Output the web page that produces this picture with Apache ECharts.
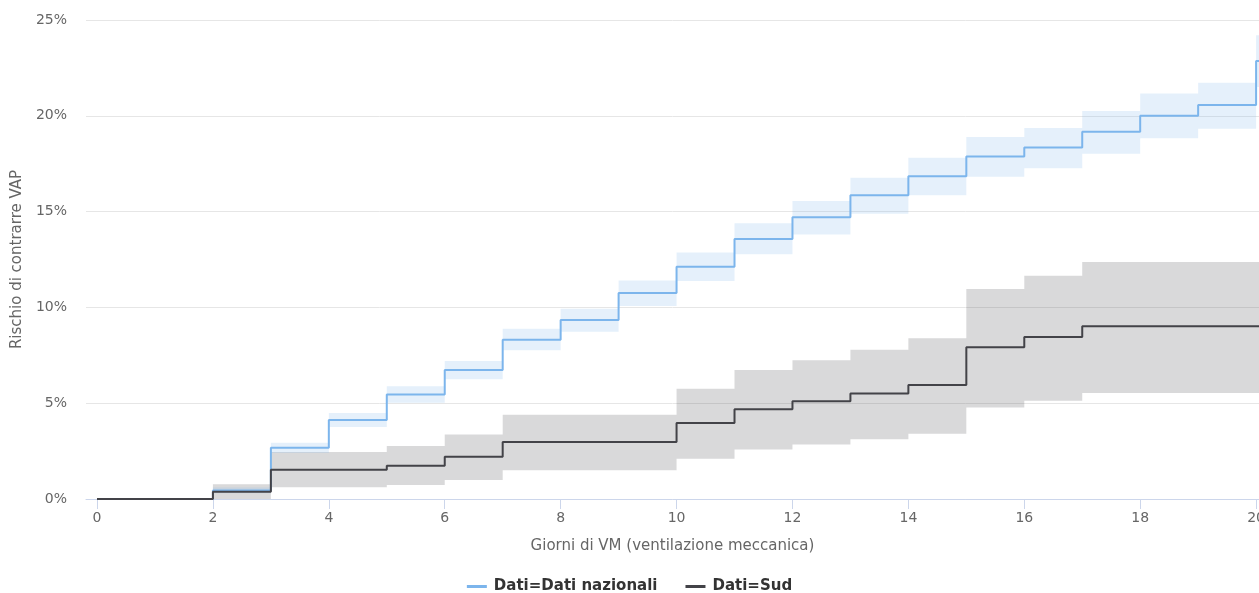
<!DOCTYPE html>
<html>
<head>
<meta charset="utf-8">
<script src="https://cdn.jsdelivr.net/npm/echarts@6/dist/echarts.min.js"></script>
<style>
  html, body { margin: 0; padding: 0; background: #fff; }
  #chart { width: 1259px; height: 593px; }
</style>
</head>
<body>
<div id="chart"></div>
<script>
// giorni di VM (ultimo punto oltre 20 solo per chiudere il gradino)
var days = [0, 2, 3, 4, 5, 6, 7, 8, 9, 10, 11, 12, 13, 14, 15, 16, 17, 18, 19, 20, 21]
var xTicks = [0, 2, 4, 6, 8, 10, 12, 14, 16, 18, 20]

// Dati nazionali (rischio %, con intervallo di confidenza)
var nazRisk  = [0, 0.45, 2.68, 4.12, 5.45, 6.73, 8.31, 9.34, 10.75, 12.12, 13.57, 14.70, 15.85, 16.84, 17.87, 18.34, 19.17, 20.00, 20.56, 22.86, 22.86]
var nazUpper = [0, 0.60, 2.94, 4.49, 5.88, 7.20, 8.89, 9.93, 11.41, 12.86, 14.39, 15.55, 16.77, 17.81, 18.89, 19.36, 20.25, 21.17, 21.73, 24.20, 24.20]
var nazLower = [0, 0.30, 2.40, 3.76, 5.03, 6.25, 7.76, 8.73, 10.07, 11.38, 12.77, 13.81, 14.89, 15.85, 16.82, 17.26, 18.02, 18.83, 19.33, 21.50, 21.50]

// Sud
var sudRisk  = [0, 0.38, 1.53, 1.53, 1.74, 2.21, 2.97, 2.97, 2.97, 3.97, 4.68, 5.10, 5.50, 5.95, 7.92, 8.46, 9.01, 9.01, 9.01, 9.01, 9.01]
var sudUpper = [0, 0.77, 2.45, 2.45, 2.77, 3.36, 4.40, 4.40, 4.40, 5.76, 6.73, 7.24, 7.79, 8.39, 10.96, 11.65, 12.37, 12.37, 12.37, 12.37, 12.37]
var sudLower = [0, 0, 0.61, 0.61, 0.73, 0.99, 1.50, 1.50, 1.50, 2.10, 2.59, 2.85, 3.12, 3.41, 4.77, 5.13, 5.53, 5.53, 5.53, 5.53, 5.53]

var FONT = '"DejaVu Sans", Verdana, sans-serif'

function pairs(ys) {
    return days.map(function (d, i) { return [d, ys[i]] })
}

// banda a gradini: un solo poligono (contorno superiore avanti, inferiore indietro)
function bandSeries(name, lower, upper, color) {
    return {
        name: name, type: 'custom', silent: true, z: 1,
        data: [[days[0], lower[0]]],
        renderItem: function (params, api) {
            var pts = []
            for (var i = 0; i < days.length - 1; i++) {
                pts.push(api.coord([days[i], upper[i]]))
                pts.push(api.coord([days[i + 1], upper[i]]))
            }
            for (var j = days.length - 2; j >= 0; j--) {
                pts.push(api.coord([days[j + 1], lower[j]]))
                pts.push(api.coord([days[j], lower[j]]))
            }
            var cs = params.coordSys
            return {
                type: 'polygon',
                shape: { points: pts },
                clipPath: { type: 'rect', shape: { x: cs.x, y: cs.y, width: cs.width, height: cs.height } },
                style: { fill: color }
            }
        }
    }
}

var chart = echarts.init(document.getElementById('chart'))
var option = {
    animation: false,
    textStyle: { fontFamily: FONT },
    grid: { left: 86, right: 0, top: 20, bottom: 94, outerBoundsMode: 'none', containLabel: false },
    legend: {
        data: ['Dati=Dati nazionali', 'Dati=Sud'],
        top: 574,
        left: 'center',
        icon: 'rect',
        itemWidth: 20,
        itemHeight: 3,
        itemGap: 28,
        textStyle: { fontFamily: FONT, fontSize: 15, fontWeight: 'bold', color: '#333', padding: [0, 0, 0, 2] }
    },
    xAxis: {
        type: 'value',
        min: -0.19,
        max: 20.05,
        name: 'Giorni di VM (ventilazione meccanica)',
        nameLocation: 'middle',
        nameGap: 40,
        nameTextStyle: { fontFamily: FONT, fontSize: 15, color: '#666' },
        axisLine: { show: true, lineStyle: { color: '#ccd6eb' } },
        axisTick: { show: true, length: 10, lineStyle: { color: '#ccd6eb' }, customValues: xTicks },
        axisLabel: { fontFamily: FONT, fontSize: 14, color: '#666', margin: 12, customValues: xTicks },
        splitLine: { show: false }
    },
    yAxis: {
        type: 'value',
        min: 0,
        max: 25,
        interval: 5,
        name: 'Rischio di contrarre VAP',
        nameLocation: 'middle',
        nameRotate: 90,
        nameGap: 58,
        nameTextStyle: { fontFamily: FONT, fontSize: 15, color: '#666' },
        axisLine: { show: false },
        axisTick: { show: false },
        axisLabel: { fontFamily: FONT, fontSize: 14, color: '#666', margin: 19, formatter: '{value}%' },
        splitLine: { lineStyle: { color: '#e6e6e6' } }
    },
    series: [
        bandSeries('sud_band', sudLower, sudUpper, 'rgba(67,67,72,0.2)'),
        bandSeries('naz_band', nazLower, nazUpper, 'rgba(124,181,236,0.2)'),
        {
            name: 'Dati=Dati nazionali', type: 'line', step: 'end', symbol: 'none', z: 3,
            color: '#7cb5ec',
            lineStyle: { width: 2, color: '#7cb5ec' },
            data: pairs(nazRisk)
        },
        {
            name: 'Dati=Sud', type: 'line', step: 'end', symbol: 'none', z: 4,
            color: '#434348',
            lineStyle: { width: 2, color: '#434348' },
            data: pairs(sudRisk)
        }
    ]
}
chart.setOption(option)
</script>
</body>
</html>
